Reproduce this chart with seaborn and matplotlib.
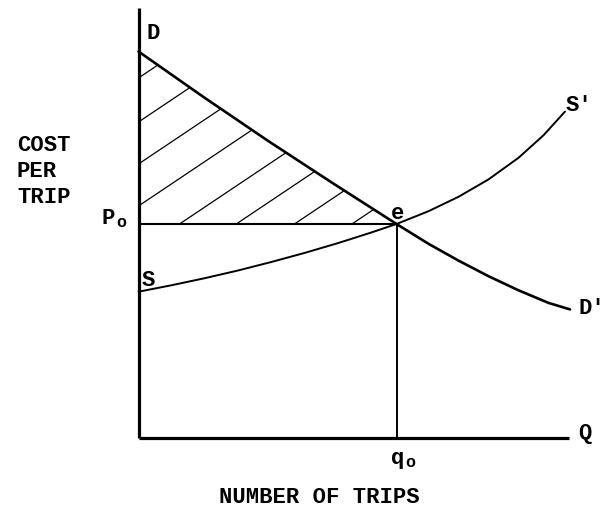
import matplotlib
matplotlib.use("Agg")
import matplotlib.pyplot as plt
from matplotlib.patches import Polygon
import seaborn as sns
import pandas as pd

# demand curve D -> D' (quantity, cost per trip)
demand_q = [0, 65, 129, 194, 258, 290, 320, 350, 380, 410, 431.5]
demand_c = [386, 340.5, 297, 254.5, 213.5, 193.7, 176.9, 161.3, 147.2, 134.6, 128.1]

# supply curve S -> S'
supply_q = [0, 32.8, 66.2, 99.5, 132.8, 166.2, 199.5, 232.8, 258,
            290, 320, 350, 380, 405, 426.5]
supply_c = [145.8, 152.2, 159.3, 167.0, 175.5, 184.6, 194.4, 205.0, 213.5,
            226.3, 240.7, 258.1, 279.7, 302.2, 325.9]

# equilibrium
q0 = 258
p0 = 213.5

# hatch lines (intercept on cost axis, common slope)
hatch_intercepts = [359.5, 315.5, 273.5, 231.5, 186, 148, 109, 70.5]
hatch_slope = 0.67

axis_top = 430
axis_right = 430

sns.set_style("white")
plt.rcParams['font.family'] = ['Liberation Mono', 'DejaVu Sans']

fig = plt.figure(figsize=(6.04, 5.11), dpi=100)
ax = fig.add_axes([0, 0, 1, 1])
ax.set_xlim(-138.5, 465.5)
ax.set_ylim(-73.5, 437.5)
ax.axis('off')

# axes
ax.plot([0, 0], [0, axis_top], color='black', lw=2.3, solid_capstyle='butt')
ax.plot([0, axis_right], [0, 0], color='black', lw=2.3, solid_capstyle='butt')

demand = pd.DataFrame({'q': demand_q, 'c': demand_c})
supply = pd.DataFrame({'q': supply_q, 'c': supply_c})
sns.lineplot(data=demand, x='q', y='c', sort=False, estimator=None,
             color='black', lw=1.9, ax=ax)
sns.lineplot(data=supply, x='q', y='c', sort=False, estimator=None,
             color='black', lw=1.4, ax=ax)

# p0 and q0 guide lines
ax.plot([0, q0], [p0, p0], color='black', lw=1.5)
ax.plot([q0, q0], [0, p0], color='black', lw=1.4)

# hatched consumer surplus region
tri_q = [q for q in demand_q if q <= q0] + [0]
tri_c = [c for q, c in zip(demand_q, demand_c) if q <= q0] + [p0]
clip = Polygon(list(zip(tri_q, tri_c)), closed=True, transform=ax.transData)
for b in hatch_intercepts:
    ln, = ax.plot([0, q0], [b, b + hatch_slope * q0], color='black', lw=0.9)
    ln.set_clip_path(clip)

fs = 16
kw = dict(color='black', fontsize=fs, fontweight='bold')
sub = dict(color='black', fontsize=12, fontweight='bold')
ax.text(14.5, 404.5, 'D', ha='center', va='center', **kw)
ax.text(9.5, 157.5, 'S', ha='center', va='center', **kw)
ax.text(427.5, 332.5, "S'", ha='left', va='center', **kw)
ax.text(439.5, 129.5, "D'", ha='left', va='center', **kw)
ax.text(259.5, 224, 'e', ha='center', va='center', **kw)
ax.text(446.5, 4.5, 'Q', ha='center', va='center', **kw)
ax.text(-30, 219.5, 'P', ha='center', va='center', **kw)
ax.text(-17.5, 215, 'o', ha='center', va='center', **sub)
ax.text(259, -21, 'q', ha='center', va='center', **kw)
ax.text(271.5, -24.5, 'o', ha='center', va='center', **sub)

for i, word in enumerate(['COST', 'PER', 'TRIP']):
    ax.text(-121.5, 292.5 - 26 * i, word, ha='left', va='center', **kw)
ax.text(180.5, -59.5, 'NUMBER OF TRIPS', ha='center', va='center', **kw)

fig.savefig('out.png', dpi=100)
